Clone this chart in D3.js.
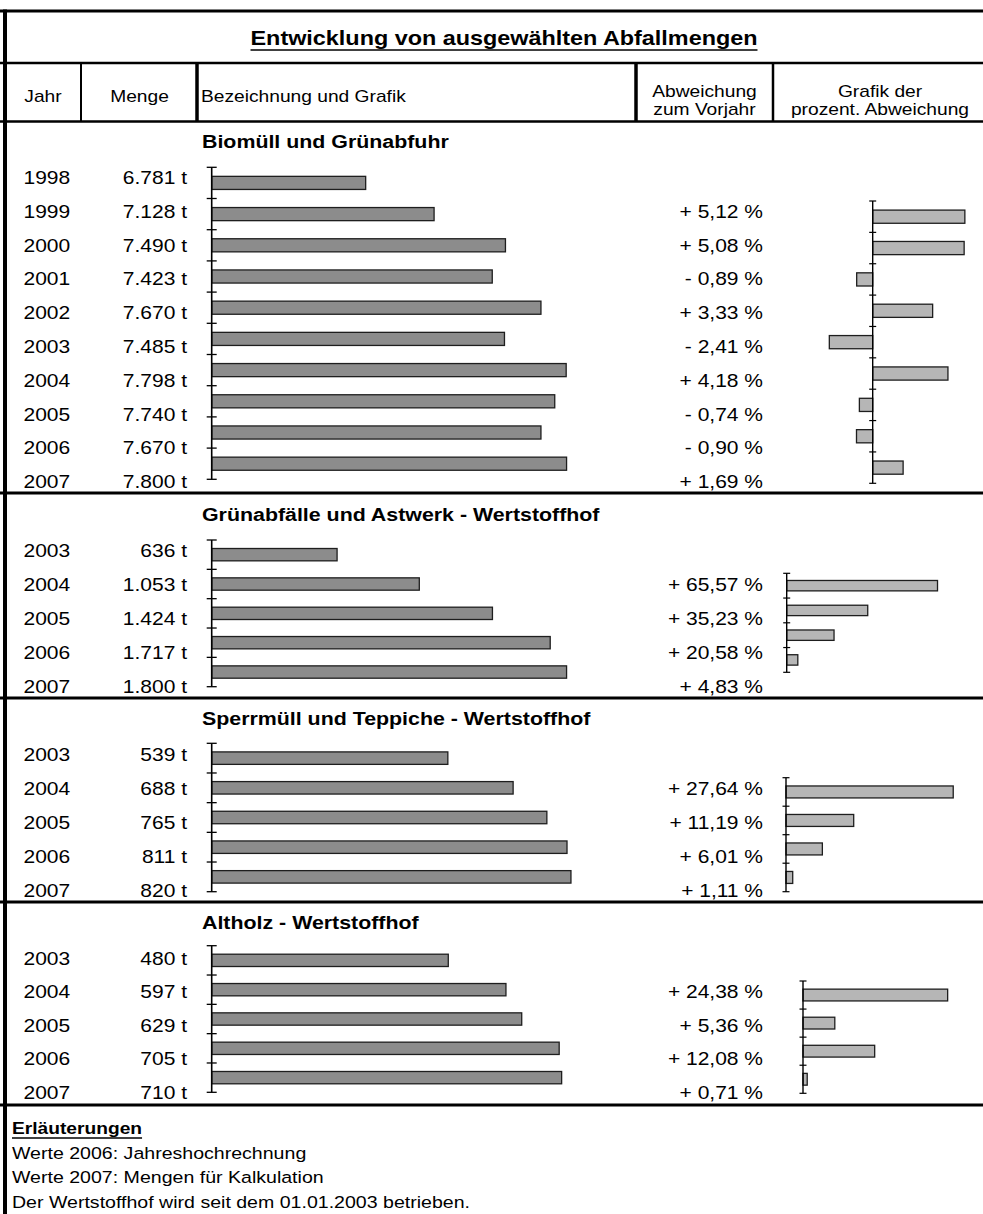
<!DOCTYPE html>
<html><head><meta charset="utf-8">
<script src="https://cdn.jsdelivr.net/npm/d3@7"></script>
<style>html,body{margin:0;padding:0;background:#fff;} svg{display:block;}</style>
</head><body><svg id="c" width="983" height="1214"></svg>
<script>
// ---------- DATA ----------
const title = "Entwicklung von ausgewählten Abfallmengen";
const headerCols = ["Jahr", "Menge", "Bezeichnung und Grafik"];
const headerAbw = ["Abweichung", "zum Vorjahr"];
const headerGrafik = ["Grafik der", "prozent. Abweichung"];
const sectionNames = ["Biomüll und Grünabfuhr", "Grünabfälle und Astwerk - Wertstoffhof", "Sperrmüll und Teppiche - Wertstoffhof", "Altholz - Wertstoffhof"];
const bioYears = [1998, 1999, 2000, 2001, 2002, 2003, 2004, 2005, 2006, 2007];
const bioTons = [6781, 7128, 7490, 7423, 7670, 7485, 7798, 7740, 7670, 7800];
const bioPct = [null, 5.12, 5.08, -0.89, 3.33, -2.41, 4.18, -0.74, -0.90, 1.69];
const whYears = [2003, 2004, 2005, 2006, 2007];
const gruenTons = [636, 1053, 1424, 1717, 1800];
const gruenPct = [null, 65.57, 35.23, 20.58, 4.83];
const sperrTons = [539, 688, 765, 811, 820];
const sperrPct = [null, 27.64, 11.19, 6.01, 1.11];
const altTons = [480, 597, 629, 705, 710];
const altPct = [null, 24.38, 5.36, 12.08, 0.71];
const tonDomains = [[6000, 8000], [0, 2000], [0, 900], [0, 800]];
const pctDomains = [[-3, 6], [0, 80], [0, 30], [0, 30]];
const notesTitle = "Erläuterungen";
const notes = ["Werte 2006: Jahreshochrechnung", "Werte 2007: Mengen für Kalkulation", "Der Wertstoffhof wird seit dem 01.01.2003 betrieben."];

const sections = [
  {name: sectionNames[0], years: bioYears, tons: bioTons, pct: bioPct, tonDomain: tonDomains[0], pctDomain: pctDomains[0]},
  {name: sectionNames[1], years: whYears, tons: gruenTons, pct: gruenPct, tonDomain: tonDomains[1], pctDomain: pctDomains[1]},
  {name: sectionNames[2], years: whYears, tons: sperrTons, pct: sperrPct, tonDomain: tonDomains[2], pctDomain: pctDomains[2]},
  {name: sectionNames[3], years: whYears, tons: altTons, pct: altPct, tonDomain: tonDomains[3], pctDomain: pctDomains[3]}
];

// ---------- LAYOUT ----------
const SX = 1.2;
const FONT = "'Liberation Sans', Arial, sans-serif";
const L = {
  frameLeft: 5, right: 987, top: 11,
  titleLine: 63, headLine: 121.5,
  colX: [81, 197, 636, 773], colW: [2, 3.5, 3.5, 2.5],
  tonX: [211.7, 606],
  yearX: 23.5, tonLabelX: 187, pctLabelX: 763,
  sec: [
    {top: 121.5, bottom: 493, titleY: 148.3, row0: 184, step: 33.8, bandY: [167.3, 479.3], pctX: [818.7, 980.7], pctY: [201, 483.3]},
    {top: 493, bottom: 698, titleY: 520.5, row0: 557, step: 34, bandY: [540, 686.7], pctX: [786.7, 970.7], pctY: [573.3, 672.3]},
    {top: 698, bottom: 902, titleY: 724.5, row0: 761, step: 34, bandY: [743.3, 891.7], pctX: [786, 967.5], pctY: [777.7, 891.7]},
    {top: 902, bottom: 1105, titleY: 928.5, row0: 965, step: 33.4, bandY: [945.7, 1092.3], pctX: [803, 981], pctY: [981, 1093.3]}
  ]
};

const svg = d3.select("#c");
const deLocale = d3.formatLocale({decimal: ",", thousands: ".", grouping: [3], currency: ["", " €"]});
const fmtTon = deLocale.format(",d");
const fmtPct = deLocale.format(".2f");

function txt(x, y, s, o = {}) {
  const t = svg.append("text")
    .attr("transform", `translate(${x},${y}) scale(${o.sx || SX},1)`)
    .attr("font-family", FONT)
    .attr("font-size", o.size || 17.5)
    .attr("font-weight", o.weight || "normal")
    .attr("text-anchor", o.anchor || "start")
    .attr("fill", "#000")
    .text(s);
  if (o.underline) {
    const w = t.node().getComputedTextLength() * (o.sx || SX);
    const x0 = o.anchor === "middle" ? x - w / 2 : (o.anchor === "end" ? x - w : x);
    svg.append("line").attr("x1", x0).attr("x2", x0 + w)
      .attr("y1", y + o.underline).attr("y2", y + o.underline)
      .attr("stroke", "#000").attr("stroke-width", o.uw || 1.5);
  }
  return t;
}
function hline(y, x1, x2, w) {
  svg.append("line").attr("x1", x1).attr("x2", x2).attr("y1", y).attr("y2", y).attr("stroke", "#000").attr("stroke-width", w);
}
function vline(x, y1, y2, w) {
  svg.append("line").attr("x1", x).attr("x2", x).attr("y1", y1).attr("y2", y2).attr("stroke", "#000").attr("stroke-width", w);
}

// ---------- FRAME ----------
hline(L.top, 0, 983, 3);
hline(L.titleLine, 0, 983, 2.5);
hline(L.headLine, 0, 983, 2.5);
L.colX.forEach((x, i) => vline(x, L.titleLine, L.headLine, L.colW[i]));
vline(L.right, L.top, L.sec[3].bottom, 3);
L.sec.forEach(s => hline(s.bottom, 0, 983, 3));
vline(L.frameLeft, L.top - 1.5, 1214, 4);

// ---------- TITLE & HEADER ----------
txt(504, 45, title, {size: 19.5, weight: "bold", anchor: "middle", underline: 5, uw: 1.6});
txt(43, 102, headerCols[0], {size: 16, anchor: "middle"});
txt(139.5, 102, headerCols[1], {size: 16, anchor: "middle"});
txt(201, 102, headerCols[2], {size: 16});
txt(704.5, 96.5, headerAbw[0], {size: 16, anchor: "middle"});
txt(704.5, 115, headerAbw[1], {size: 16, anchor: "middle"});
txt(880, 96.5, headerGrafik[0], {size: 16, anchor: "middle"});
txt(880, 115, headerGrafik[1], {size: 16, anchor: "middle"});

// ---------- SECTIONS ----------
const BAR_FRAC = 0.42;
sections.forEach((d, si) => {
  const s = L.sec[si];
  txt(202, s.titleY, d.name, {size: 17.8, weight: "bold"});

  // text columns
  d.years.forEach((yr, i) => {
    const by = s.row0 + i * s.step;
    txt(L.yearX, by, String(yr));
    txt(L.tonLabelX, by, fmtTon(d.tons[i]) + " t", {anchor: "end"});
    if (d.pct[i] !== null) {
      const p = d.pct[i];
      txt(L.pctLabelX, by, (p < 0 ? "- " : "+ ") + fmtPct(Math.abs(p)) + " %", {anchor: "end"});
    }
  });

  // main bar chart
  const y = d3.scaleBand().domain(d.years).range(s.bandY).padding(0);
  const x = d3.scaleLinear().domain(d.tonDomain).range(L.tonX);
  const bh = y.bandwidth() * BAR_FRAC;
  const g = svg.append("g");
  g.selectAll("rect").data(d.years).enter().append("rect")
    .attr("x", x(d.tonDomain[0]))
    .attr("y", yr => y(yr) + (y.bandwidth() - bh) / 2)
    .attr("width", (yr, i) => x(d.tons[i]) - x(d.tonDomain[0]))
    .attr("height", bh)
    .attr("fill", "#8c8c8c").attr("stroke", "#1e1e1e").attr("stroke-width", 1.3);
  const ax = x(d.tonDomain[0]);
  vline(ax, s.bandY[0], s.bandY[1], 1.6);
  const bounds = d.years.map(yr => y(yr)).concat([s.bandY[1]]);
  bounds.forEach(b => hline(b, ax - 5, ax + 5, 1.3));

  // percentage chart
  const pYears = d.years.slice(1);
  const pVals = d.pct.slice(1);
  const py = d3.scaleBand().domain(pYears).range(s.pctY).padding(0);
  const px = d3.scaleLinear().domain(d.pctDomain).range(s.pctX);
  const pbh = py.bandwidth() * BAR_FRAC;
  const pg = svg.append("g");
  pg.selectAll("rect").data(pYears).enter().append("rect")
    .attr("x", (yr, i) => Math.min(px(0), px(pVals[i])))
    .attr("y", yr => py(yr) + (py.bandwidth() - pbh) / 2)
    .attr("width", (yr, i) => Math.abs(px(pVals[i]) - px(0)))
    .attr("height", pbh)
    .attr("fill", "#b6b6b6").attr("stroke", "#1e1e1e").attr("stroke-width", 1.3);
  const p0 = px(0);
  vline(p0, s.pctY[0], s.pctY[1], 1.4);
  pYears.map(yr => py(yr)).concat([s.pctY[1]]).forEach(b => hline(b, p0 - 3.5, p0 + 3.5, 1.2));
});

// ---------- NOTES ----------
txt(12, 1133.5, notesTitle, {size: 16, weight: "bold", underline: 4.5, uw: 1.6});
notes.forEach((n, i) => txt(12, 1158.5 + i * 24.5, n, {size: 16.3}));
</script>
</body></html>
